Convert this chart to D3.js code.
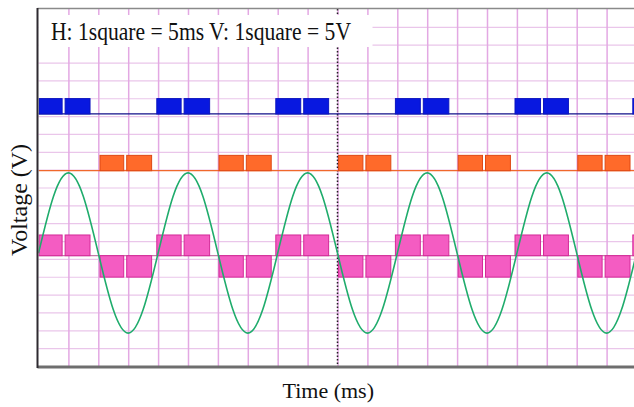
<!DOCTYPE html>
<html>
<head>
<meta charset="utf-8">
<script src="https://cdn.jsdelivr.net/npm/d3@7"></script>
<style>
  body { margin: 0; background: #fff; }
  svg { display: block; }
  .lbl { font-family: "Liberation Serif", "Times New Roman", serif; fill: #111; }
</style>
</head>
<body>
<div id="chart"></div>
<script>

// grid positions (ms and display volts, 1 square = 5)
var time_grid = [5, 10, 15, 20, 25, 30, 35, 40, 45, 50, 55, 60, 65, 70, 75, 80, 85, 90, 95]
var volt_grid = [5, 10, 15, 20, 25, 30, 35, 40, 45, 50, 55, 60, 65, 70, 75, 80, 85, 90, 95]
var marker_time = 50

// blue gate pulses (ms): start, split, end
var blue_start = [0, 19.7, 39.6, 59.6, 79.6, 99.3]
var blue_split = [4.2, 24.1, 44.1, 64.1, 84.2, 103.7]
var blue_end   = [8.7, 28.7, 48.6, 68.7, 88.7, 108]
var blue_low = 70.6, blue_high = 74.9

// orange gate pulses (ms): start, split, end
var orange_start = [10.2, 30.1, 50.1, 70.1, 90.1]
var orange_split = [14.5, 34.5, 54.5, 74.5, 94.5]
var orange_end   = [19.0, 39.0, 59.0, 79.0, 99.0]
var orange_low = 54.7, orange_high = 59.0

// pink output levels (positive with blue, negative with orange)
var pink_mid = 30.9, pink_high = 36.7, pink_low = 24.9

// green sine, sampled every 2.5 ms
var sine_time = [0, 2.5, 5, 7.5, 10, 12.5, 15, 17.5, 20, 22.5, 25, 27.5, 30, 32.5, 35, 37.5,
  40, 42.5, 45, 47.5, 50, 52.5, 55, 57.5, 60, 62.5, 65, 67.5, 70, 72.5, 75, 77.5,
  80, 82.5, 85, 87.5, 90, 92.5, 95, 97.5, 100]
var sine_volt = [31.6, 47.5, 54.1, 47.5, 31.6, 15.8, 9.2, 15.8, 31.6, 47.5, 54.1, 47.5, 31.6, 15.8, 9.2, 15.8,
  31.6, 47.5, 54.1, 47.5, 31.6, 15.8, 9.2, 15.8, 31.6, 47.5, 54.1, 47.5, 31.6, 15.8, 9.2, 15.8,
  31.6, 47.5, 54.1, 47.5, 31.6, 15.8, 9.2, 15.8, 31.6]

var header_text = "H: 1square = 5ms V: 1square = 5V"
var x_title = "Time (ms)"
var y_title = "Voltage (V)"

// layout
var width = 634, height = 407
var plot = {left: 38.5, right: 636.5, top: 9, bottom: 366}

var x = d3.scaleLinear().domain([0, 100]).range([plot.left, plot.right])
var y = d3.scaleLinear().domain([0, 100]).range([plot.bottom, plot.top])

var svg = d3.select("#chart").append("svg")
  .attr("width", width)
  .attr("height", height)

svg.append("defs").append("clipPath").attr("id", "clip")
  .append("rect")
  .attr("x", plot.left).attr("y", plot.top)
  .attr("width", width - plot.left).attr("height", plot.bottom - plot.top)

// horizontal grid
svg.append("g")
  .attr("class", "grid-h")
  .attr("transform", "translate(" + plot.left + ",0)")
  .call(d3.axisLeft(y).tickValues(volt_grid).tickSize(-(plot.right - plot.left)).tickFormat(""))
  .call(function(g) { g.select(".domain").remove() })
  .selectAll("line")
  .attr("stroke", "#eac6ea")
  .attr("stroke-width", 1.2)

// vertical grid
svg.append("g")
  .attr("class", "grid-v")
  .attr("transform", "translate(0," + plot.bottom + ")")
  .call(d3.axisBottom(x).tickValues(time_grid).tickSize(-(plot.bottom - plot.top)).tickFormat(""))
  .call(function(g) { g.select(".domain").remove() })
  .selectAll("line")
  .attr("stroke", "#e3a8e3")
  .attr("stroke-width", 1.5)

// dotted marker
svg.append("line")
  .attr("x1", x(marker_time)).attr("x2", x(marker_time))
  .attr("y1", plot.top).attr("y2", plot.bottom)
  .attr("stroke", "#222")
  .attr("stroke-width", 1.5)
  .attr("stroke-dasharray", "1.5,2")

// header box (sits over the grid, leaves the ends of the grid lines showing)
svg.append("rect")
  .attr("x", plot.left)
  .attr("y", 15)
  .attr("width", 334)
  .attr("height", 32)
  .attr("fill", "#fff")

svg.append("text")
  .attr("class", "lbl")
  .attr("x", 51)
  .attr("y", 40)
  .attr("textLength", 300)
  .attr("lengthAdjust", "spacingAndGlyphs")
  .style("font-size", "25px")
  .text(header_text)

var traces = svg.append("g").attr("clip-path", "url(#clip)")

// build block list for a pulse train
function make_blocks(starts, splits, ends, lo, hi) {
  var blocks = []
  starts.forEach(function(s, i) {
    blocks.push({t0: s, t1: splits[i], lo: lo, hi: hi, left: true})
    blocks.push({t0: splits[i], t1: ends[i], lo: lo, hi: hi, left: false})
  })
  return blocks
}

function draw_blocks(blocks, fill, stroke) {
  traces.append("g").selectAll("rect")
    .data(blocks)
    .enter().append("rect")
    .attr("x", function(d) { return x(d.t0) + (d.left ? 0.5 : 1.5) })
    .attr("width", function(d) { return x(d.t1) - x(d.t0) - 2 })
    .attr("y", function(d) { return y(Math.max(d.lo, d.hi)) })
    .attr("height", function(d) { return Math.abs(y(d.lo) - y(d.hi)) })
    .attr("fill", fill)
    .attr("stroke", stroke)
    .attr("stroke-width", 1)
}

// baselines
traces.append("line")
  .attr("x1", x(0)).attr("x2", x(100))
  .attr("y1", y(blue_low)).attr("y2", y(blue_low))
  .attr("stroke", "#10108a").attr("stroke-width", 1.3)

traces.append("line")
  .attr("x1", x(0)).attr("x2", x(100))
  .attr("y1", y(orange_low)).attr("y2", y(orange_low))
  .attr("stroke", "#f0682c").attr("stroke-width", 1.3)

traces.append("line")
  .attr("x1", x(0)).attr("x2", x(100))
  .attr("y1", y(pink_mid)).attr("y2", y(pink_mid))
  .attr("stroke", "#c47aa8").attr("stroke-width", 1.2)

draw_blocks(make_blocks(blue_start, blue_split, blue_end, blue_low, blue_high), "#0818e0", "#0a14c0")
draw_blocks(make_blocks(orange_start, orange_split, orange_end, orange_low, orange_high), "#ff6a2a", "#de4814")
draw_blocks(make_blocks(blue_start, blue_split, blue_end, pink_mid, pink_high), "#f45cc2", "#d42a98")
draw_blocks(make_blocks(orange_start, orange_split, orange_end, pink_mid, pink_low), "#f45cc2", "#d42a98")

// sine trace
var sine_data = sine_time.map(function(t, i) { return {t: t, v: sine_volt[i]} })

traces.append("path")
  .datum(sine_data)
  .attr("fill", "none")
  .attr("stroke", "#1fac6c")
  .attr("stroke-width", 1.6)
  .attr("d", d3.line()
    .x(function(d) { return x(d.t) })
    .y(function(d) { return y(d.v) })
    .curve(d3.curveNatural))

// frame
svg.append("line")
  .attr("x1", plot.left - 1).attr("x2", width)
  .attr("y1", plot.top - 0.5).attr("y2", plot.top - 0.5)
  .attr("stroke", "#8a8a8a").attr("stroke-width", 1.5)

svg.append("line")
  .attr("x1", plot.left - 1).attr("x2", width)
  .attr("y1", plot.bottom + 1).attr("y2", plot.bottom + 1)
  .attr("stroke", "#6e6e6e").attr("stroke-width", 3)

svg.append("line")
  .attr("x1", plot.left - 1).attr("x2", plot.left - 1)
  .attr("y1", plot.top - 1).attr("y2", plot.bottom + 2)
  .attr("stroke", "#2e2a30").attr("stroke-width", 2)

// axis titles
svg.append("text")
  .attr("class", "lbl")
  .attr("x", (plot.left + width) / 2 - 8)
  .attr("y", 398)
  .attr("text-anchor", "middle")
  .style("font-size", "22px")
  .text(x_title)

svg.append("text")
  .attr("class", "lbl")
  .attr("transform", "translate(27,200) rotate(-90)")
  .attr("text-anchor", "middle")
  .style("font-size", "24px")
  .text(y_title)

</script>
</body>
</html>
